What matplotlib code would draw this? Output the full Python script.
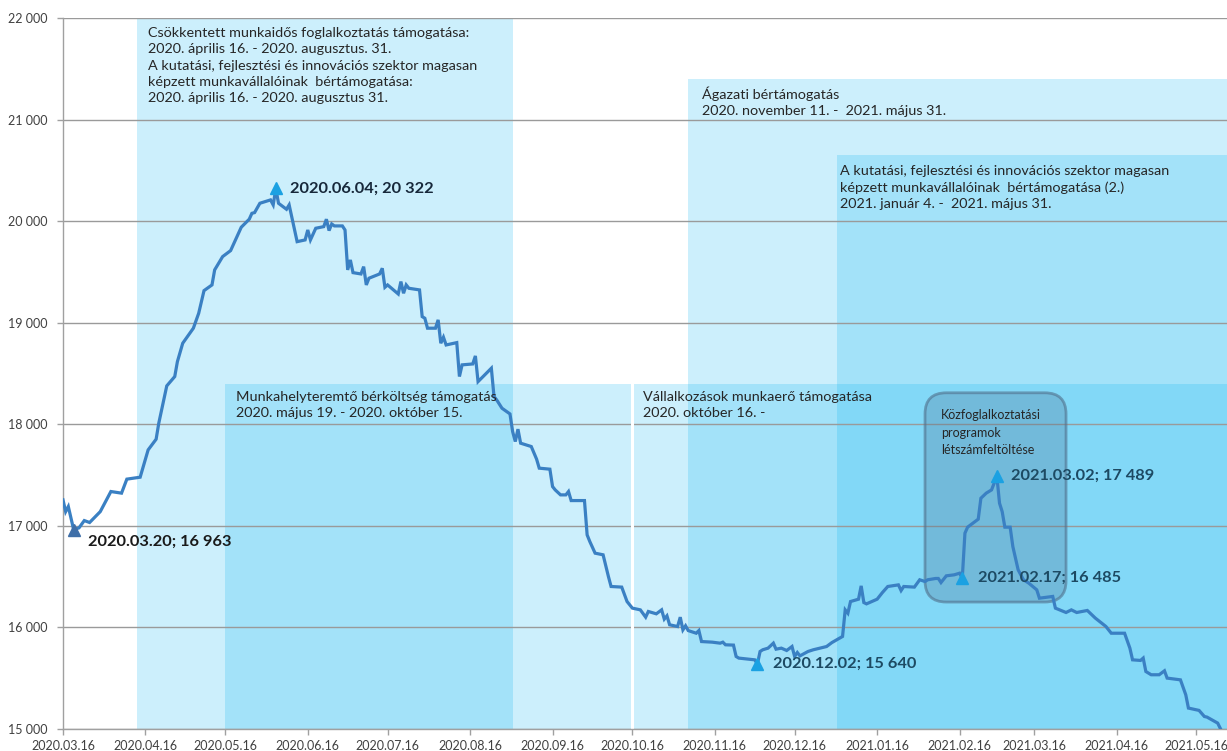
import matplotlib
matplotlib.use('Agg')
import matplotlib.pyplot as plt
import matplotlib.dates as mdates
from matplotlib.patches import Rectangle, FancyBboxPatch
import pandas as pd

# napi létszám adatok
dates = [
    '2020-03-16', '2020-03-17', '2020-03-18', '2020-03-20', '2020-03-22', '2020-03-24', '2020-03-26',
    '2020-03-30', '2020-04-03', '2020-04-07', '2020-04-09', '2020-04-14', '2020-04-17', '2020-04-20',
    '2020-04-21', '2020-04-24', '2020-04-27', '2020-04-28', '2020-04-30', '2020-05-04', '2020-05-06',
    '2020-05-08', '2020-05-11', '2020-05-12', '2020-05-15', '2020-05-18', '2020-05-22', '2020-05-25',
    '2020-05-26', '2020-05-27', '2020-05-29', '2020-06-02', '2020-06-03', '2020-06-04', '2020-06-05',
    '2020-06-08', '2020-06-09', '2020-06-12', '2020-06-15', '2020-06-16', '2020-06-17', '2020-06-19',
    '2020-06-22', '2020-06-23', '2020-06-24', '2020-06-25', '2020-06-26', '2020-06-29', '2020-06-30',
    '2020-07-01', '2020-07-02', '2020-07-03', '2020-07-06', '2020-07-07', '2020-07-08', '2020-07-09',
    '2020-07-13', '2020-07-14', '2020-07-15', '2020-07-16', '2020-07-20', '2020-07-21', '2020-07-22',
    '2020-07-23', '2020-07-24', '2020-07-28', '2020-07-29', '2020-07-30', '2020-07-31', '2020-08-03',
    '2020-08-04', '2020-08-05', '2020-08-06', '2020-08-07', '2020-08-11', '2020-08-12', '2020-08-13',
    '2020-08-17', '2020-08-18', '2020-08-19', '2020-08-24', '2020-08-25', '2020-08-26', '2020-08-28',
    '2020-08-31', '2020-09-01', '2020-09-02', '2020-09-03', '2020-09-04', '2020-09-08', '2020-09-10',
    '2020-09-11', '2020-09-15', '2020-09-16', '2020-09-17', '2020-09-19', '2020-09-21', '2020-09-22',
    '2020-09-23', '2020-09-28', '2020-09-29', '2020-09-30', '2020-10-02', '2020-10-05', '2020-10-07',
    '2020-10-08', '2020-10-12', '2020-10-14', '2020-10-15', '2020-10-16', '2020-10-19', '2020-10-21',
    '2020-10-22', '2020-10-25', '2020-10-27', '2020-10-28', '2020-10-29', '2020-10-30', '2020-11-02',
    '2020-11-03', '2020-11-04', '2020-11-05', '2020-11-06', '2020-11-09', '2020-11-10', '2020-11-11',
    '2020-11-15', '2020-11-18', '2020-11-19', '2020-11-20', '2020-11-23', '2020-11-24', '2020-11-25',
    '2020-12-01', '2020-12-02', '2020-12-03', '2020-12-04', '2020-12-06', '2020-12-08', '2020-12-09',
    '2020-12-11', '2020-12-13', '2020-12-15', '2020-12-16', '2020-12-17', '2020-12-18', '2020-12-21',
    '2020-12-23', '2020-12-28', '2020-12-30', '2021-01-03', '2021-01-04', '2021-01-05', '2021-01-06',
    '2021-01-09', '2021-01-10', '2021-01-11', '2021-01-12', '2021-01-16', '2021-01-18', '2021-01-20',
    '2021-01-24', '2021-01-25', '2021-01-26', '2021-01-30', '2021-02-01', '2021-02-03', '2021-02-04',
    '2021-02-07', '2021-02-08', '2021-02-09', '2021-02-11', '2021-02-14', '2021-02-16', '2021-02-17',
    '2021-02-18', '2021-02-19', '2021-02-23', '2021-02-24', '2021-02-26', '2021-02-28', '2021-03-02',
    '2021-03-03', '2021-03-04', '2021-03-05', '2021-03-07', '2021-03-08', '2021-03-10', '2021-03-12',
    '2021-03-14', '2021-03-17', '2021-03-18', '2021-03-23', '2021-03-24', '2021-03-28', '2021-03-30',
    '2021-04-01', '2021-04-05', '2021-04-08', '2021-04-12', '2021-04-14', '2021-04-19', '2021-04-21',
    '2021-04-22', '2021-04-25', '2021-04-26', '2021-04-27', '2021-04-29', '2021-05-02', '2021-05-04',
    '2021-05-05', '2021-05-10', '2021-05-12', '2021-05-13', '2021-05-17', '2021-05-19', '2021-05-20',
    '2021-05-24', '2021-05-25',
]
values = [
    17256, 17140, 17190, 16963, 16980, 17052, 17033,
    17140, 17338, 17322, 17460, 17479, 17748, 17853,
    18011, 18378, 18470, 18617, 18798, 18946, 19093,
    19316, 19372, 19520, 19651, 19710, 19940, 20019,
    20077, 20084, 20176, 20209, 20160, 20322, 20176,
    20117, 20160, 19798, 19815, 19913, 19815, 19930,
    19946, 20019, 19907, 19972, 19953, 19953, 19913,
    19520, 19618, 19493, 19480, 19552, 19372, 19438,
    19480, 19536, 19349, 19372, 19283, 19405, 19290,
    19372, 19339, 19323, 19060, 19044, 18946, 18946,
    19028, 18798, 18857, 18781, 18804, 18470, 18585,
    18594, 18673, 18420, 18552, 18273, 18240, 18158,
    18102, 17928, 17830, 17952, 17814, 17781, 17657,
    17568, 17558, 17387, 17354, 17305, 17305, 17338,
    17249, 17249, 16911, 16846, 16731, 16715, 16501,
    16403, 16397, 16255, 16222, 16190, 16173, 16101,
    16157, 16134, 16173, 16082, 16114, 16026, 16009,
    16101, 15976, 16016, 15969, 15943, 15969, 15861,
    15855, 15845, 15855, 15829, 15826, 15714, 15698,
    15681, 15640, 15763, 15780, 15796, 15845, 15786,
    15796, 15773, 15812, 15714, 15753, 15720, 15763,
    15780, 15812, 15851, 15911, 16173, 16140, 16255,
    16278, 16409, 16245, 16232, 16278, 16344, 16403,
    16419, 16363, 16403, 16397, 16469, 16452, 16469,
    16482, 16482, 16442, 16508, 16518, 16534, 16485,
    16928, 16987, 17066, 17272, 17322, 17354, 17489,
    17223, 17140, 16987, 16987, 16797, 16567, 16469,
    16436, 16370, 16288, 16305, 16190, 16147, 16173,
    16147, 16167, 16092, 16009, 15943, 15943, 15796,
    15681, 15675, 15698, 15566, 15534, 15534, 15573,
    15501, 15484, 15337, 15206, 15183, 15123, 15117,
    15058, 15005,
]

# kiemelt pontok
marked_dates = ['2020-03-20', '2020-06-04', '2020-12-02', '2021-02-17', '2021-03-02']
marked_values = [16963, 20322, 15640, 16485, 17489]

# támogatási időszakok: kezdet, vég, felső határ
periods = [
    ('2020-04-13', '2020-09-01', 22000),
    ('2020-05-16', '2020-10-16', 18400),
    ('2020-10-16', '2021-06-01', 18400),
    ('2020-11-06', '2021-06-01', 21400),
    ('2021-01-01', '2021-06-01', 20650),
]
period_labels = [
    'Csökkentett munkaidős foglalkoztatás támogatása:\n2020. április 16. - 2020. augusztus. 31.\n'
    'A kutatási, fejlesztési és innovációs szektor magasan\nképzett munkavállalóinak  bértámogatása:\n'
    '2020. április 16. - 2020. augusztus 31.',
    'Munkahelyteremtő bérköltség támogatás\n2020. május 19. - 2020. október 15.',
    'Vállalkozások munkaerő támogatása\n2020. október 16. -',
    'Ágazati bértámogatás\n2020. november 11. -  2021. május 31.',
    'A kutatási, fejlesztési és innovációs szektor magasan\nképzett munkavállalóinak  bértámogatása (2.)\n'
    '2021. január 4. -  2021. május 31.',
]
label_pos = [('2020-04-17', 21910), ('2020-05-20', 18330), ('2020-10-20', 18330),
             ('2020-11-11', 21330), ('2021-01-02', 20555)]

plt.rcParams['font.family'] = ['Lato', 'DejaVu Sans']

fig = plt.figure(figsize=(12.27, 7.51), dpi=100)
ax = fig.add_axes([63 / 1227, 22 / 751, 1164 / 1227, 711 / 751])

x = pd.to_datetime(dates)
ymin = 15000

for (start, end, top) in periods:
    s = mdates.date2num(pd.Timestamp(start))
    e = mdates.date2num(pd.Timestamp(end))
    ax.add_patch(Rectangle((s, ymin), e - s, top - ymin, facecolor='#00B0F0',
                           alpha=0.2, edgecolor='none', zorder=0))

# fehér elválasztó vonal a két időszak között
ax.plot([pd.Timestamp('2020-10-16')] * 2, [ymin, 18400], color='white', lw=2.2, zorder=1.5)

for yv in range(15000, 22001, 1000):
    ax.axhline(yv, color='#9a9a9a', lw=1, zorder=1)

for (d, yv), txt in zip(label_pos, period_labels):
    ax.text(pd.Timestamp(d), yv, txt, fontsize=10.4, color='#262626', va='top', ha='left',
            linespacing=1.42, zorder=4)

# közfoglalkoztatás doboz
bx0 = mdates.date2num(pd.Timestamp('2021-02-03'))
bx1 = mdates.date2num(pd.Timestamp('2021-03-28'))
box = FancyBboxPatch((bx0, 16250), bx1 - bx0, 2060,
                     boxstyle='round,pad=0,rounding_size=8', mutation_aspect=26,
                     facecolor='#4a6f8f', alpha=0.28, edgecolor='none', zorder=2)
ax.add_patch(box)
box_edge = FancyBboxPatch((bx0, 16250), bx1 - bx0, 2060,
                          boxstyle='round,pad=0,rounding_size=8', mutation_aspect=26,
                          facecolor='none', edgecolor='#50708c', lw=2, alpha=0.6, zorder=2.1)
ax.add_patch(box_edge)
ax.text(pd.Timestamp('2021-02-09'), 18150, 'Közfoglalkoztatási\nprogramok\nlétszámfeltöltése',
        fontsize=9, color='#262626', va='top', ha='left', linespacing=1.55, zorder=4)

ax.plot(x, values, color='#3a80c3', lw=2.3, zorder=3, solid_joinstyle='miter')

marker_colors = ['#3f6fa8', '#1ba1e2', '#1ba1e2', '#1ba1e2', '#1ba1e2']
text_colors = ['#1a1a1a', '#17283a', '#1d4a63', '#1d4a63', '#1d4a63']
offsets = [(10, -9), (10, 0), (11, 0), (11, 0), (10, 0)]
for d, v, mc, tc, off in zip(marked_dates, marked_values, marker_colors, text_colors, offsets):
    ax.plot(pd.Timestamp(d), v, marker='^', markersize=9, color=mc, zorder=5)
    lbl = '{}; {:,}'.format(pd.Timestamp(d).strftime('%Y.%m.%d'), v).replace(',', ' ')
    ax.annotate(lbl, (pd.Timestamp(d), v), xytext=off, textcoords='offset points',
                fontsize=11.8, fontweight='bold', color=tc, va='center', ha='left', zorder=6)

ax.set_xlim(pd.Timestamp('2020-03-16'), pd.Timestamp('2021-05-27 12:00'))
ax.set_ylim(15000, 22000)

ticks = pd.date_range('2020-03-01', '2021-05-01', freq='MS') + pd.Timedelta(days=15)
ax.set_xticks(ticks)
ax.xaxis.set_major_formatter(mdates.DateFormatter('%Y.%m.%d'))
ax.set_yticks(range(15000, 22001, 1000))
ax.set_yticklabels(['{:,}'.format(v).replace(',', ' ') for v in range(15000, 22001, 1000)])
ax.tick_params(axis='both', labelsize=9, colors='#404040', length=4, width=1, color='#a0a0a0')
ax.tick_params(axis='y', pad=7)
ax.tick_params(axis='x', pad=4)

for side in ['top', 'right']:
    ax.spines[side].set_visible(False)
for side in ['left', 'bottom']:
    ax.spines[side].set_color('#a0a0a0')
    ax.spines[side].set_linewidth(1)
    ax.spines[side].set_zorder(2)

fig.savefig('out.png', dpi=100)
